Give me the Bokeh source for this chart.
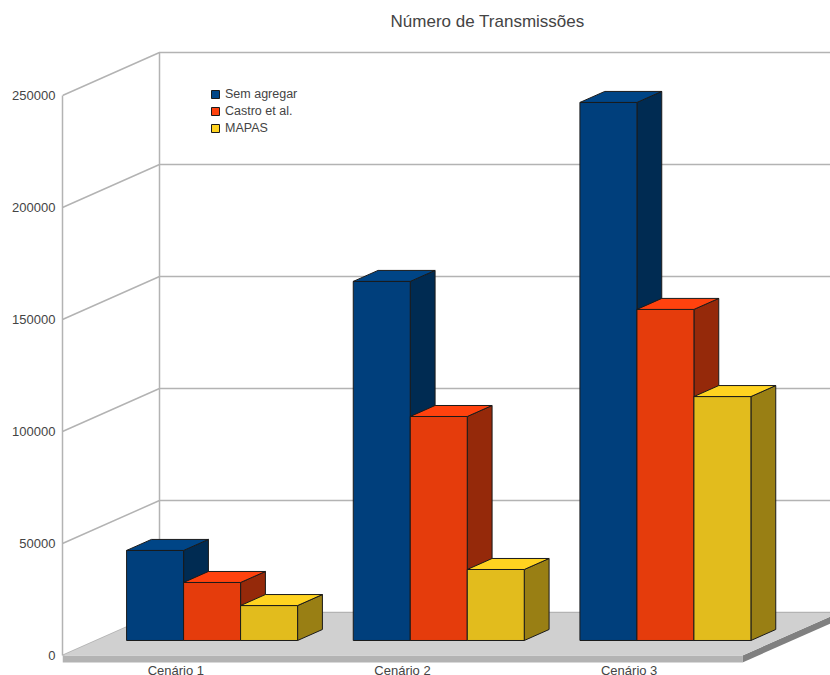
from bokeh.embed import file_html
from bokeh.models import ColumnDataSource, FixedTicker, Label, Legend, LegendItem, Range1d
from bokeh.plotting import figure
from bokeh.resources import INLINE

# Chart data
title = "Número de Transmissões"
categories = ["Cenário 1", "Cenário 2", "Cenário 3"]
series_names = ["Sem agregar", "Castro et al.", "MAPAS"]
sem_agregar = [40200, 160300, 240200]
castro = [25900, 100000, 147800]
mapas = [15600, 31700, 108900]
y_ticks = [0, 50000, 100000, 150000, 200000, 250000]

# Face colours per series: front, side, top
front_colors = ["#003f7c", "#e53c0c", "#e2bc1d"]
side_colors = ["#002b52", "#95290a", "#997f14"]
top_colors = ["#004586", "#ff420e", "#ffd320"]
edge_color = "#1a1a1a"
grid_color = "#b3b3b3"
text_color = "#444444"

# Scale of the plot area; the frame runs to the bottom of the page
PX_PER_CAT = 226.67
PX_PER_VAL = 0.00224
X0, X1 = -0.5, -0.5 + 768 / PX_PER_CAT
Y0, Y1 = -20 / PX_PER_VAL, 655 / PX_PER_VAL
Y_TOP = y_ticks[-1]
THICK = -7 / PX_PER_VAL

# Oblique projection of the depth axis
DEPTH_X = 97 / PX_PER_CAT
DEPTH_Y = 43 / PX_PER_VAL
BAR_W = 57.0 / PX_PER_CAT
BAR_START = -49.3 / PX_PER_CAT - 33.8 / PX_PER_CAT
BAR_Z0, BAR_Z1 = 0.349, 0.605


def proj(x, y, z):
    return x + z * DEPTH_X, y + z * DEPTH_Y


def box_faces(x, value):
    x_l, x_r = x, x + BAR_W
    fx, fy = zip(*[proj(x_l, 0, BAR_Z0), proj(x_r, 0, BAR_Z0), proj(x_r, value, BAR_Z0), proj(x_l, value, BAR_Z0)])
    sx, sy = zip(*[proj(x_r, 0, BAR_Z0), proj(x_r, 0, BAR_Z1), proj(x_r, value, BAR_Z1), proj(x_r, value, BAR_Z0)])
    tx, ty = zip(*[proj(x_l, value, BAR_Z0), proj(x_r, value, BAR_Z0), proj(x_r, value, BAR_Z1), proj(x_l, value, BAR_Z1)])
    return (list(fx), list(fy)), (list(sx), list(sy)), (list(tx), list(ty))


p = figure(
    width=830, height=675, output_backend="svg", toolbar_location=None,
    x_range=Range1d(X0, X1), y_range=Range1d(Y0, Y1),
    min_border_left=62, min_border_right=0, min_border_top=0, min_border_bottom=0,
    outline_line_color=None, background_fill_color="white", border_fill_color="white",
)
p.grid.visible = False

# Left value axis
ya = p.yaxis[0]
ya.ticker = FixedTicker(ticks=y_ticks)
ya.bounds = (0, Y_TOP)
ya.axis_line_color = grid_color
ya.axis_line_width = 1.5
ya.major_tick_line_color = None
ya.minor_tick_line_color = None
ya.major_tick_out = 0
ya.major_tick_in = 0
ya.minor_tick_out = 0
ya.minor_tick_in = 0
ya.major_label_standoff = 7
ya.major_label_text_font = "Liberation Sans"
ya.major_label_text_font_size = "13px"
ya.major_label_text_color = text_color
ya.formatter.use_scientific = False

# Category axis pinned to the underside of the floor slab
xa = p.xaxis[0]
xa.fixed_location = THICK
xa.ticker = FixedTicker(ticks=list(range(len(categories))))
xa.major_label_overrides = {i: c for i, c in enumerate(categories)}
xa.axis_line_color = None
xa.major_tick_line_color = None
xa.minor_tick_line_color = None
xa.major_tick_out = 0
xa.major_tick_in = 0
xa.minor_tick_out = 0
xa.minor_tick_in = 0
xa.major_label_standoff = 0
xa.major_label_text_font = "Liberation Sans"
xa.major_label_text_font_size = "13px"
xa.major_label_text_color = text_color

# Back wall and the slanted side-wall gridlines
wall_xs, wall_ys = [], []
for t in y_ticks:
    bx, by = proj(X0, t, 1)
    wall_xs.append([X0, bx, X1])
    wall_ys.append([t, by, by])
p.multi_line(wall_xs, wall_ys, line_color=grid_color, line_width=1.5)
bx0, by0 = proj(X0, 0, 1)
_, by1 = proj(X0, Y_TOP, 1)
p.line([bx0, bx0], [by0, by1], line_color=grid_color, line_width=1.5)

# Floor slab
FLOOR_X = 2.5
fx1, fy1 = proj(FLOOR_X, 0, 1)
p.patch([FLOOR_X, FLOOR_X, fx1, fx1], [0, THICK, fy1 + THICK, fy1], fill_color="#808080", line_color=None)
p.patch([X0, FLOOR_X, FLOOR_X, X0], [0, 0, THICK, THICK], fill_color=grid_color, line_color=None)
p.patch([X0, FLOOR_X, fx1, bx0], [0, 0, fy1, by0], fill_color="#d0d0d0", line_color=None)
p.line([bx0, X1], [by0, by0], line_color=grid_color, line_width=1)

# Bars, one series at a time so later series overlap the earlier side faces
legend_items = []
for s, (name, values) in enumerate(zip(series_names, [sem_agregar, castro, mapas])):
    faces = {"front": ([], []), "side": ([], []), "top": ([], [])}
    for c, v in enumerate(values):
        front, side, top = box_faces(c + BAR_START + s * BAR_W, v)
        for key, face in zip(("front", "side", "top"), (front, side, top)):
            faces[key][0].append(face[0])
            faces[key][1].append(face[1])
    for key, col in (("side", side_colors[s]), ("front", front_colors[s])):
        src = ColumnDataSource(dict(xs=faces[key][0], ys=faces[key][1]))
        p.patches("xs", "ys", source=src, fill_color=col, line_color=edge_color, line_width=1)
    src = ColumnDataSource(dict(xs=faces["top"][0], ys=faces["top"][1]))
    r = p.patches("xs", "ys", source=src, fill_color=top_colors[s], line_color=edge_color, line_width=1)
    legend_items.append(LegendItem(label=name, renderers=[r]))

legend = Legend(
    items=legend_items, location=(148, 540), orientation="vertical",
    background_fill_alpha=0, border_line_color=None, padding=0, margin=0, spacing=3,
    glyph_width=10, glyph_height=10, label_height=10, label_standoff=5,
    label_text_font="Liberation Sans", label_text_font_size="12.5px", label_text_color=text_color,
)
p.add_layout(legend)

p.add_layout(Label(
    x=(487 - 175.3) / PX_PER_CAT, y=(655 - 21) / PX_PER_VAL, text=title,
    text_align="center", text_baseline="middle",
    text_font="Liberation Sans", text_font_size="17px", text_color=text_color,
))

open("out.html", "w").write(file_html(p, INLINE))
